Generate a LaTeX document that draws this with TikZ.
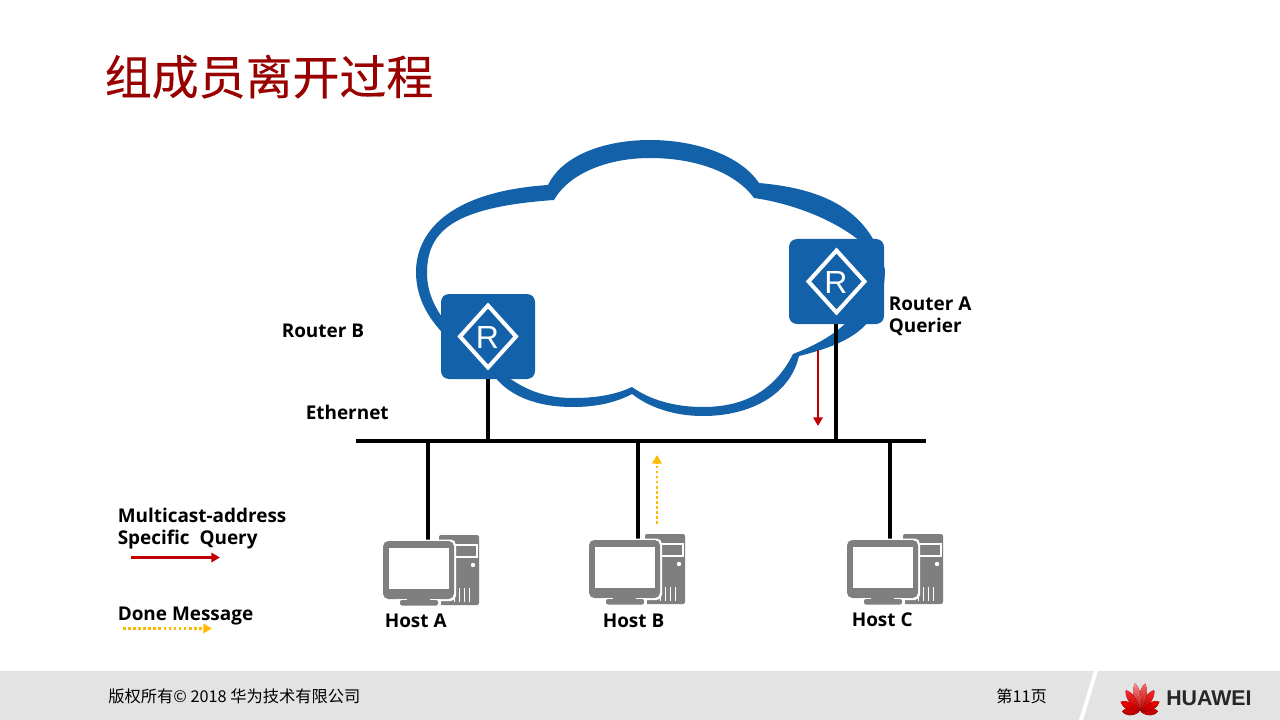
\documentclass[tikz,border=0pt]{standalone}
\usepackage{fontspec}
\setmainfont{Open Sans}
\newfontfamily\cjk{Noto Sans CJK SC}
\newfontfamily\cjktitle[FakeBold=0.3]{Noto Sans CJK SC}
\newfontfamily\arial{Liberation Sans}
\usetikzlibrary{arrows.meta}
\definecolor{hwblue}{HTML}{1261A9}
\definecolor{hwgray}{HTML}{7F7F7F}
\definecolor{titlered}{HTML}{990000}
\definecolor{qred}{HTML}{C00000}
\definecolor{dyellow}{HTML}{FFB900}
\definecolor{footbg}{HTML}{E3E3E3}
\tikzset{
  link/.style={line width=3pt,black},
  label/.style={anchor=base west,inner sep=0pt,font=\fontsize{14.2pt}{14.2pt}\selectfont\bfseries},
  router/.style={fill=hwblue,rounded corners=6pt,draw=none},
  query/.style={qred,line width=2pt,-{Triangle[length=6.5pt,width=7pt]}},
  done/.style={dyellow,line width=2pt,dash pattern=on 2pt off 1.8pt,-{Triangle[length=6.5pt,width=7pt]}},
  foot/.style={anchor=base west,inner sep=0pt,font=\cjk\fontsize{12.2pt}{12.2pt}\selectfont},
  pics/host/.style={code={
    \fill[hwgray,rounded corners=1.5pt] (56,0) rectangle (96,70);
    \draw[white,line width=0.8pt] (70,10) rectangle (94,22);
    \fill[white] (90,30) circle (2.2);
    \foreach \vx in {71,76,81,86}{\fill[white] (\vx,53) rectangle ++(1.4,14);}
    \fill[white,rounded corners=4pt] (-1,4.5) rectangle (73,66);
    \fill[hwgray,rounded corners=4pt] (0,6) rectangle (71,64);
    \fill[white] (6,13) rectangle (66,54);
    \fill[white] (15,64) rectangle (58,70.5);
    \fill[hwgray] (24,63) rectangle (47,66);
    \fill[hwgray,rounded corners=1.5pt] (17,65) rectangle (55,70.5);
  }},
}
\begin{document}
\begin{tikzpicture}[x=0.75pt,y=-0.75pt]
\useasboundingbox (0,0) rectangle (1280,720);
\fill[white] (0,0) rectangle (1280,720);
% footer
\fill[footbg] (0,671) rectangle (1280,720);
\fill[white] (1094,671) -- (1098,671) -- (1083,720) -- (1079,720) -- cycle;
% cloud
\fill[hwblue,even odd rule]
 (548,185) .. controls (563,154) and (607,140) .. (650,140)
 .. controls (695,140) and (740,155) .. (759,183)
 .. controls (815,188) and (870,205) .. (885,270)
 .. controls (884,325) and (852,343) .. (799,356)
 .. controls (790,395) and (750,416) .. (703,416)
 .. controls (675,416) and (650,408) .. (632,394)
 .. controls (615,403) and (595,407) .. (573,407)
 .. controls (535,407) and (505,395) .. (490,370)
 .. controls (450,345) and (416,315) .. (416,272)
 .. controls (416,235) and (445,192) .. (548,185) -- cycle
 (554,200) .. controls (570,172) and (610,158) .. (650,158)
 .. controls (695,158) and (735,172) .. (754,198)
 .. controls (790,203) and (840,220) .. (870,250)
 .. controls (878,310) and (835,338) .. (793,354)
 .. controls (775,390) and (745,407) .. (703,407)
 .. controls (675,407) and (650,400) .. (632,387)
 .. controls (615,395) and (595,398) .. (573,398)
 .. controls (545,398) and (525,390) .. (505,375)
 .. controls (465,345) and (427,315) .. (427,273)
 .. controls (427,230) and (455,207) .. (554,200) -- cycle;
% title
\node[anchor=base west,inner sep=0pt,text=titlered,font=\cjktitle\fontsize{35.2pt}{36pt}\selectfont] (title) at (104.5,94.5) {组成员离开过程};
% bus and links
\coordinate (busL) at (356,441);
\coordinate (busR) at (926,441);
\draw[link] (busL) -- (busR);
\coordinate (tapB) at (488,441);
\coordinate (tapA) at (836,441);
\coordinate (tapHA) at (428,441);
\coordinate (tapHB) at (638,441);
\coordinate (tapHC) at (890,441);
\coordinate (dropHA) at (428,541);
\coordinate (dropHB) at (638,541);
\coordinate (dropHC) at (890,541);
\draw[link] (tapHA) -- (dropHA);
\draw[link] (tapHB) -- (dropHB);
\draw[link] (tapHC) -- (dropHC);
% routers
\node[router,minimum width=70.5pt,minimum height=63.75pt,inner sep=0pt] (rb) at (488,336.5) {};
\node[router,minimum width=71.25pt,minimum height=63.75pt,inner sep=0pt] (ra) at (836.5,281.5) {};
\draw[link] (rb.south) -- (tapB);
\draw[link] (tapA |- ra.south) -- (tapA);
\foreach \n/\cx/\cy in {rb/488/336.5,ra/836.5/281.5}{
  \draw[white,line width=3pt,miter limit=4] (\cx-28,\cy) -- (\cx,\cy-31) -- (\cx+28,\cy) -- (\cx,\cy+31) -- cycle;
}
\node[inner sep=0pt,text=white,font=\arial\fontsize{24pt}{24pt}\selectfont] (rbR) at (487.5,337) {R};
\node[inner sep=0pt,text=white,font=\arial\fontsize{24pt}{24pt}\selectfont] (raR) at (836,282) {R};
% hosts
\pic at (383,535) {host};
\pic at (589,534) {host};
\pic at (847,534) {host};
% messages
\coordinate (qs) at (818,350);
\coordinate (qe) at (818,426);
\draw[query] (qs) -- (qe);
\coordinate (ds) at (657,524);
\coordinate (de) at (657,455);
\draw[done] (ds) -- (de);
\coordinate (lqs) at (131,557.5);
\coordinate (lqe) at (220,557.5);
\draw[query] (lqs) -- (lqe);
\coordinate (lds) at (123,628.5);
\coordinate (lde) at (212,628.5);
\draw[done] (lds) -- (lde);
% labels
\node[label] (lblb) at (281.5,337) {Router B};
\node[label] (lbla) at (888.5,310) {Router A};
\node[label] (lblq) at (888.5,332) {Querier};
\node[label] (lble) at (305.5,419) {Ethernet};
\node[label] (lblm) at (117.5,522) {Multicast-address};
\node[label] (lbls) at (117.5,544) {Specific~ Query};
\node[label] (lbld) at (117.5,620) {Done Message};
\node[label] (lha) at (384.5,627) {Host A};
\node[label] (lhb) at (602.5,627) {Host B};
\node[label] (lhc) at (851.5,626) {Host C};
% footer text
\node[foot] (copy) at (108,702.5) {版权所有© 2018 华为技术有限公司};
\node[foot] (page) at (996,702.5) {第11页};
% logo
\begin{scope}[shift={(1140,712)}]
 \foreach \a/\c/\l in {-88/red!85!black/18,-62/red/22,-33/red!85!white/26,-10/red!60!white/29,10/red!45!white/29,33/red!85!white/26,62/red/22,88/red!85!black/18}{
   \fill[rotate=\a,top color=\c,bottom color=red!70!black] (0,-1) .. controls (-5.5,-0.42*\l) and (-4,-0.85*\l) .. (0,-\l) .. controls (4,-0.85*\l) and (5.5,-0.42*\l) .. (0,-1) -- cycle;
 }
\end{scope}
\node[anchor=base west,inner sep=0pt,text=black!85,font=\arial\fontsize{16pt}{16pt}\selectfont\bfseries] (hw) at (1166,705) {HUAWEI};
\end{tikzpicture}
\end{document}
